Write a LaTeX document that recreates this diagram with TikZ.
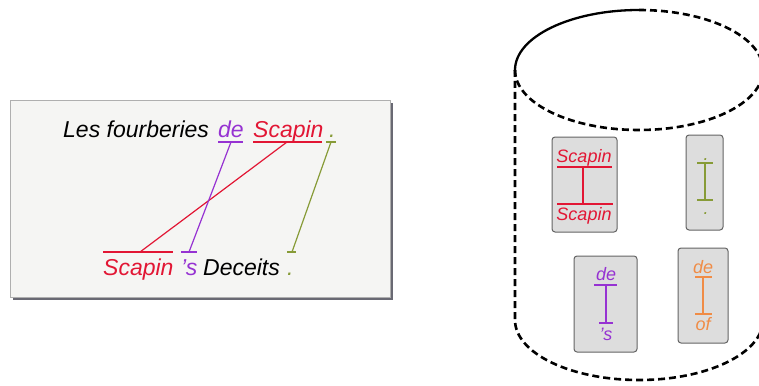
\documentclass[tikz,border=0pt]{standalone}
\usepackage{fontspec}
\setmainfont{Liberation Sans}
\definecolor{wred}{RGB}{226,22,52}
\definecolor{wpurple}{RGB}{150,50,210}
\definecolor{wolive}{RGB}{135,155,55}
\definecolor{worange}{RGB}{240,140,70}
\definecolor{boxfill}{RGB}{221,221,221}
\definecolor{boxline}{RGB}{100,100,100}
\definecolor{panel}{RGB}{245,245,243}
\definecolor{panelline}{RGB}{175,175,175}
\definecolor{shadow}{RGB}{105,105,115}
\tikzset{
  big/.style={inner sep=0pt, anchor=base west, font=\fontsize{23}{27}\selectfont\itshape},
  small/.style={inner sep=0pt, anchor=base, font=\fontsize{18}{22}\selectfont\itshape},
  link/.style={line width=1.2pt},
  pairbox/.style={fill=boxfill, draw=boxline, line width=1pt, rounded corners=3pt},
  cyl/.style={line width=2.6pt, dash pattern=on 7pt off 4pt},
  cylsolid/.style={line width=2.3pt},
}
\begin{document}
\begin{tikzpicture}[x=1pt,y=-1pt]
\useasboundingbox (0,0) rectangle (759,385);
\clip (0,0) rectangle (759,385);
% left panel
\fill[shadow] (13,103) rectangle (393,300);
\filldraw[fill=panel, draw=panelline, line width=0.6pt] (10,100) rectangle (390,297);
% top sentence
\node[big] (tLes) at (63,137) {Les fourberies};
\node[big, text=wpurple] (tde) at (218,137) {de};
\node[big, text=wred] (tScapin) at (253,137) {Scapin};
\node[big, text=wolive] (tdot) at (329,137) {.};
% bottom sentence
\node[big, text=wred] (bScapin) at (103,275) {Scapin};
\node[big, text=wpurple] (bs) at (181,275) {'s};
\node[big] (bDeceits) at (203,275) {Deceits};
\node[big, text=wolive] (bdot) at (287,275) {.};
% alignment marks
\coordinate (tdeL) at (218,142); \coordinate (tdeR) at (243,142); \coordinate (tdeM) at (231,142);
\coordinate (tScL) at (253,142); \coordinate (tScR) at (322,142); \coordinate (tScM) at (287,142);
\coordinate (tdtL) at (326,142); \coordinate (tdtR) at (336,142); \coordinate (tdtM) at (331,142);
\coordinate (bScL) at (103,252); \coordinate (bScR) at (173,252); \coordinate (bScM) at (140,252);
\coordinate (bsL) at (181,252); \coordinate (bsR) at (197,252); \coordinate (bsM) at (189,252);
\coordinate (bdtL) at (287,252); \coordinate (bdtR) at (296,252); \coordinate (bdtM) at (292,252);
\draw[link, wpurple] (tdeL) -- (tdeR);
\draw[link, wred] (tScL) -- (tScR);
\draw[link, wolive] (tdtL) -- (tdtR);
\draw[link, wred] (bScL) -- (bScR);
\draw[link, wpurple] (bsL) -- (bsR);
\draw[link, wolive] (bdtL) -- (bdtR);
\draw[link, wred] (tScM) -- (bScM);
\draw[link, wpurple] (tdeM) -- (bsM);
\draw[link, wolive] (tdtM) -- (bdtM);
% cylinder
\draw[cylsolid] (515,70) arc[start angle=180, end angle=90, x radius=124pt, y radius=60pt];
\draw[cyl] (639,10) arc[start angle=90, end angle=-180, x radius=124pt, y radius=60pt];
\draw[cyl] (515,70) -- (515,320) arc[start angle=180, end angle=360, x radius=124pt, y radius=60pt] -- (763,70);
% pair boxes
\draw[pairbox] (552,137) rectangle (617,232);
\draw[pairbox] (686,135) rectangle (723,230);
\draw[pairbox] (574,256) rectangle (637,352);
\draw[pairbox] (678,248) rectangle (728,343);
% box 1
\node[small, text=wred] (p1a) at (584,162) {Scapin};
\node[small, text=wred] (p1b) at (584,220) {Scapin};
\coordinate (p1uL) at (557,167); \coordinate (p1uR) at (612,167); \coordinate (p1uM) at (583,167);
\coordinate (p1oL) at (557,204); \coordinate (p1oR) at (613,204); \coordinate (p1oM) at (583,204);
\draw[link, wred] (p1uL) -- (p1uR); \draw[link, wred] (p1oL) -- (p1oR); \draw[link, wred] (p1uM) -- (p1oM);
% box 2
\node[small, text=wolive] (p2a) at (706,160) {.};
\node[small, text=wolive] (p2b) at (706,214) {.};
\coordinate (p2uL) at (697,163); \coordinate (p2uR) at (713,163); \coordinate (p2uM) at (705,163);
\coordinate (p2oL) at (697,200); \coordinate (p2oR) at (713,200); \coordinate (p2oM) at (705,200);
\draw[link, wolive] (p2uL) -- (p2uR); \draw[link, wolive] (p2oL) -- (p2oR); \draw[link, wolive] (p2uM) -- (p2oM);
% box 3
\node[small, text=wpurple] (p3a) at (606,280) {de};
\node[small, text=wpurple] (p3b) at (606,340) {'s};
\coordinate (p3uL) at (594,285); \coordinate (p3uR) at (617,285); \coordinate (p3uM) at (606,285);
\coordinate (p3oL) at (599,323); \coordinate (p3oR) at (613,323); \coordinate (p3oM) at (606,323);
\draw[link, wpurple] (p3uL) -- (p3uR); \draw[link, wpurple] (p3oL) -- (p3oR); \draw[link, wpurple] (p3uM) -- (p3oM);
% box 4
\node[small, text=worange] (p4a) at (703,273) {de};
\node[small, text=worange] (p4b) at (703,330) {of};
\coordinate (p4uL) at (695,277); \coordinate (p4uR) at (712,277); \coordinate (p4uM) at (703,277);
\coordinate (p4oL) at (695,314); \coordinate (p4oR) at (712,314); \coordinate (p4oM) at (703,314);
\draw[link, worange] (p4uL) -- (p4uR); \draw[link, worange] (p4oL) -- (p4oR); \draw[link, worange] (p4uM) -- (p4oM);
\end{tikzpicture}
\end{document}
